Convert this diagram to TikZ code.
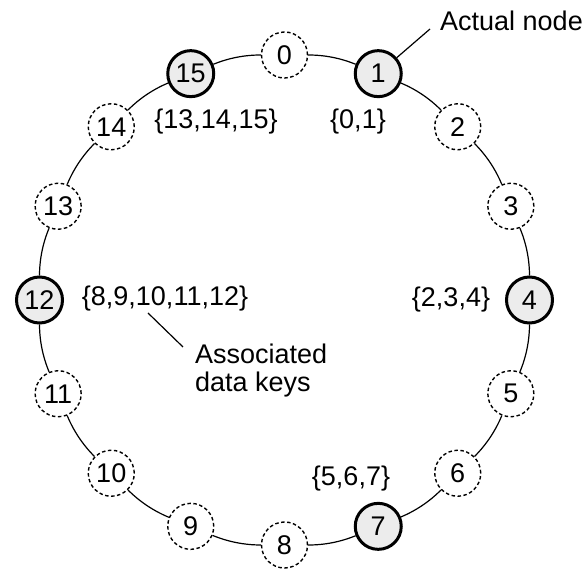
\documentclass[tikz,border=0pt]{standalone}
\usepackage{fontspec}
\setmainfont{Liberation Sans}
\begin{document}
\begin{tikzpicture}[x=1pt,y=1pt,
  font=\fontsize{27}{28}\selectfont,
  ring/.style={line width=1.2pt},
  keynode/.style={circle, draw, fill=white, line width=1.4pt, dash pattern=on 3.5pt off 2.5pt, minimum size=46pt, inner sep=0pt},
  realnode/.style={circle, draw, fill=gray!15, line width=3pt, minimum size=46pt, inner sep=0pt},
  lbl/.style={inner sep=0pt},
  pointer/.style={line width=1.2pt}
]
\useasboundingbox (0,0) rectangle (584,568);
\coordinate (c) at (284.5,268);
\foreach \i in {0,...,15}{
  \ifnum\i=1 \def\st{realnode}\else
  \ifnum\i=4 \def\st{realnode}\else
  \ifnum\i=7 \def\st{realnode}\else
  \ifnum\i=12 \def\st{realnode}\else
  \ifnum\i=15 \def\st{realnode}\else
  \def\st{keynode}\fi\fi\fi\fi\fi
  \node[\st] (n\i) at ([shift={({90-22.5*\i}:245)}]c) {\i};
}
\foreach \i in {0,...,15}{
  \pgfmathtruncatemacro\j{mod(\i+1,16)}
  \draw[ring] (n\i) to[bend left=11.25, looseness=0.86] (n\j);
}
\node[lbl] (k15) at (216,446) {\{13,14,15\}};
\node[lbl] (k1) at (358,446) {\{0,1\}};
\node[lbl] (k4) at (451,268) {\{2,3,4\}};
\node[lbl] (k12) at (165,269) {\{8,9,10,11,12\}};
\node[lbl] (k7) at (351,89) {\{5,6,7\}};
\node[lbl, anchor=base west] (actual) at (440,537) {Actual node};
\node[lbl, anchor=north west, align=left] (assoc) at (195,224) {Associated\\data keys};
\coordinate (pa) at (430,539);
\coordinate (pb1) at (148,255);
\coordinate (pb2) at (183,221);
\draw[pointer] (n1) -- (pa);
\draw[pointer] (pb1) -- (pb2);
\end{tikzpicture}
\end{document}
